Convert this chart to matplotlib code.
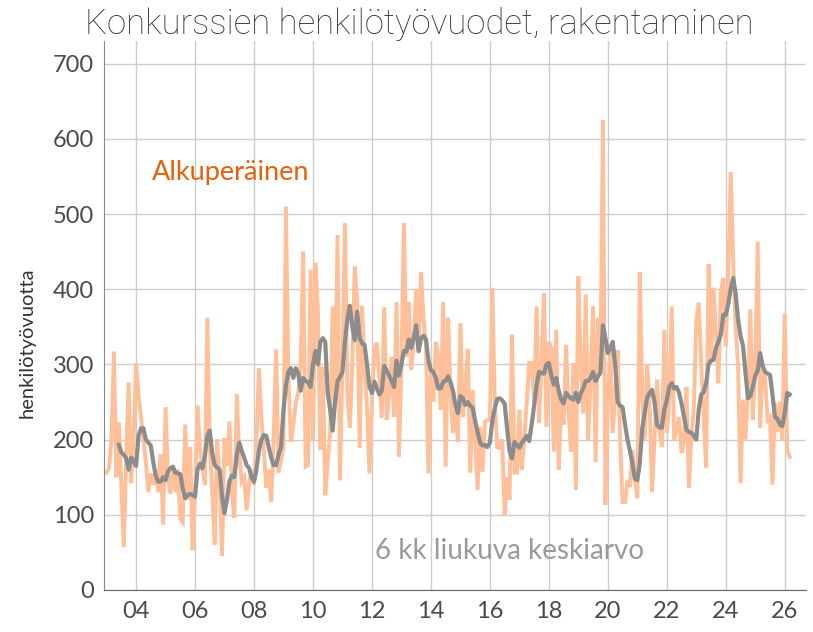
import numpy as np
import matplotlib
matplotlib.use("Agg")
import matplotlib.pyplot as plt
from matplotlib import font_manager

# monthly values, Jan 2003 onwards
start_year = 2003
original = [
    156, 162, 200, 317, 150, 223, 140, 57, 180, 276, 142, 200,
    301, 260, 230, 200, 170, 130, 155, 140, 160, 130, 180, 87,
    243, 150, 128, 165, 130, 160, 95, 90, 220, 120, 190, 53,
    130, 245, 190, 160, 140, 362, 190, 130, 60, 200, 150, 45,
    202, 165, 224, 130, 96, 260, 180, 144, 150, 106, 142, 160,
    140, 200, 295, 230, 186, 136, 160, 117, 200, 320, 156, 173,
    190, 510, 280, 197, 220, 249, 262, 300, 450, 164, 166, 426,
    200, 435, 373, 186, 297, 126, 170, 209, 377, 250, 472, 146,
    300, 488, 260, 216, 300, 430, 380, 189, 377, 300, 240, 155,
    250, 320, 329, 280, 229, 376, 226, 260, 310, 230, 383, 177,
    300, 488, 310, 383, 293, 330, 400, 315, 423, 360, 324, 155,
    293, 250, 330, 310, 240, 383, 164, 362, 260, 209, 240, 197,
    355, 230, 270, 320, 156, 266, 200, 133, 217, 157, 224, 226,
    226, 402, 250, 190, 189, 200, 100, 150, 120, 340, 156, 156,
    240, 160, 200, 249, 302, 302, 250, 377, 222, 300, 395, 217,
    330, 322, 184, 346, 160, 250, 220, 326, 240, 184, 302, 133,
    417, 300, 235, 393, 200, 280, 377, 170, 362, 300, 625, 113,
    250, 322, 209, 260, 319, 200, 117, 117, 146, 137, 186, 150,
    122, 423, 260, 200, 300, 250, 130, 200, 280, 213, 190, 346,
    209, 250, 377, 200, 213, 230, 182, 200, 270, 136, 204, 240,
    359, 382, 300, 230, 162, 433, 302, 402, 340, 275, 395, 415,
    324, 420, 556, 439, 350, 297, 142, 253, 200, 262, 373, 226,
    300, 463, 216, 297, 283, 226, 230, 140, 249, 210, 250, 200,
    368, 186, 177,
]

# 6 month moving average, first value in June 2003
ma_start = 5
moving_avg = [
    193, 183, 180, 175, 160, 176, 172,
    165, 205, 215, 215, 200, 196, 192, 170, 152, 144, 144, 150,
    146, 158, 162, 164, 156, 155, 154, 135, 122, 126, 128, 126,
    124, 160, 168, 162, 178, 205, 212, 182, 166, 163, 160, 125,
    102, 120, 145, 152, 150, 180, 196, 185, 176, 166, 162, 150,
    144, 160, 185, 200, 206, 205, 190, 176, 166, 166, 180, 190,
    240, 272, 290, 295, 282, 295, 288, 265, 282, 278, 276, 270,
    300, 318, 300, 330, 335, 330, 262, 240, 212, 250, 278, 283,
    290, 330, 360, 378, 350, 332, 370, 335, 328, 326, 300, 270,
    262, 277, 268, 260, 265, 298, 292, 285, 278, 270, 305, 285,
    300, 318, 317, 333, 322, 335, 352, 318, 335, 338, 333, 305,
    292, 290, 282, 268, 268, 277, 278, 284, 276, 265, 245, 235,
    258, 255, 246, 250, 245, 242, 225, 210, 196, 192, 193, 190,
    196, 225, 242, 254, 255, 252, 248, 215, 185, 175, 197, 193,
    189, 196, 200, 205, 198, 220, 245, 272, 290, 288, 288, 300,
    302, 285, 273, 282, 265, 253, 248, 262, 258, 255, 253, 262,
    250, 262, 268, 278, 278, 282, 290, 278, 284, 289, 352, 335,
    315, 322, 330, 298, 250, 245, 243, 220, 200, 185, 168, 148,
    146, 168, 215, 236, 256, 262, 266, 250, 220, 216, 216, 240,
    252, 270, 275, 268, 270, 262, 248, 230, 213, 210, 209, 205,
    200, 240, 260, 263, 275, 300, 305, 306, 322, 330, 340, 366,
    366, 380, 400, 415, 395, 360, 338, 325, 290, 255, 258, 270,
    285, 292, 315, 298, 290, 288, 286, 260, 230, 228, 220, 218,
    235, 262, 260,
]

tick_years = list(range(2004, 2027, 2))
tick_labels = [f"{y % 100:02d}" for y in tick_years]

t = start_year + np.arange(len(original)) / 12
t_ma = t[ma_start:]

names = {f.name for f in font_manager.fontManager.ttflist}
narrow = "Liberation Sans Narrow" if "Liberation Sans Narrow" in names else "Roboto"
plt.rcParams["font.family"] = ["Lato", "DejaVu Sans"]

fig = plt.figure(figsize=(8.13, 6.32), dpi=100)
ax = fig.add_axes([0.128, 0.0665, 0.863, 0.8685])

ax.plot(t, original, color="#ffbf98", lw=2.8, solid_joinstyle="miter", zorder=2)
ax.plot(t_ma, moving_avg, color="#8c8c8c", lw=3.0, zorder=3)

ax.set_xlim(2002.915, 2026.71)
ax.set_ylim(0, 730)
ax.set_yticks(range(0, 701, 100))
ax.set_xticks(tick_years)
ax.set_xticklabels(tick_labels)
ax.grid(True, color="#cccccc", lw=1.0)
ax.set_axisbelow(True)
for side in ("top", "right"):
    ax.spines[side].set_visible(False)
ax.spines["left"].set_color("#888888")
ax.spines["bottom"].set_color("#666666")
ax.tick_params(length=0, labelsize=17, labelcolor="#4a4a4a", pad=8)
ax.tick_params(axis="y", pad=7)
ax.set_ylabel("henkilötyövuotta", fontsize=14.5, color="#333333")
ax.yaxis.set_label_coords(-0.097, 0.45)

ax.text(2004.55, 555, "Alkuperäinen", fontsize=19.5, color="#e8600a", va="center")
ax.text(2012.1, 52, "6 kk liukuva keskiarvo", fontsize=20, color="#9a9a9a", va="center")

fig.text(0.516, 0.962, "Konkurssien henkilötyövuodet, rakentaminen",
         fontsize=25, color="#3a3a3a", ha="center", va="center", weight="light",
         family=[narrow, "DejaVu Sans"])

fig.savefig("out.png", dpi=100)
